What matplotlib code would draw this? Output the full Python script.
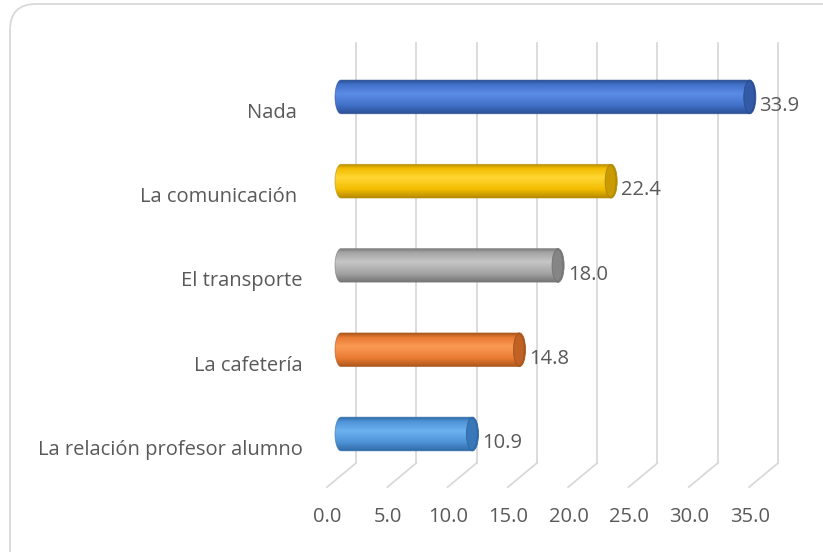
import numpy as np
import matplotlib.pyplot as plt
from matplotlib.patches import Ellipse, FancyBboxPatch, PathPatch
from matplotlib.path import Path
from matplotlib.colors import LinearSegmentedColormap
from matplotlib.transforms import IdentityTransform

# Data (top to bottom in the chart); the first two labels carry a trailing space as in the source
categories = ['Nada ', 'La comunicación ', 'El transporte', 'La cafetería',
              'La relación profesor alumno']
values = [33.9, 22.4, 18.0, 14.8, 10.9]
ticks = [0, 5, 10, 15, 20, 25, 30, 35]

# dark, mid, light shades per bar
shades = [('#2B4F94', '#4170C8', '#5B8CE6'),
          ('#B58A00', '#F2BC00', '#FFD633'),
          ('#767676', '#A3A3A3', '#C6C6C6'),
          ('#A9561C', '#E97A32', '#FA9A55'),
          ('#2F6AA8', '#4E93D6', '#6CB2F0')]

plt.rcParams['font.family'] = ['Open Sans', 'DejaVu Sans']
TXT = '#595959'
FS = 14.5

fig = plt.figure(figsize=(8.23, 5.52), dpi=100)
ax = fig.add_axes([0, 0, 1, 1])
ax.axis('off')
ax.patch.set_visible(False)
ax.set_zorder(2)

# outer frame
frame = FancyBboxPatch((10, -40), 860, 588, boxstyle='round,pad=0,rounding_size=26',
                       transform=IdentityTransform(), fc='none', ec='#D9D9D9', lw=1.3,
                       zorder=0)
fig.patches.append(frame)

n = len(categories)
ypos = [n - 1 - i for i in range(n)]

# 3D grid: back wall lines plus floor diagonals
back_dx, front_dx = 1.24, -1.16
top_y, floor_back, floor_front = 4.64, -0.345, -0.63
for t in ticks:
    ax.plot([t + back_dx, t + back_dx], [floor_back, top_y], color='#D9D9D9', lw=1.3, zorder=1)
    ax.plot([t + back_dx, t + front_dx], [floor_back, floor_front], color='#D9D9D9', lw=1.3, zorder=1)
    ax.text(t + front_dx + 0.05, -0.985, f'{t:.1f}', ha='center', va='center',
            fontsize=FS, color=TXT)

h = 0.40
rx = 0.5
for cat, v, y, (dk, md, lt) in zip(categories, values, ypos, shades):
    cmap = LinearSegmentedColormap.from_list(
        'c', [(0, dk), (0.12, md), (0.4, lt), (0.75, md), (1, dk)])
    # body: left half-ellipse + rectangle
    theta = np.linspace(np.pi / 2, 3 * np.pi / 2, 30)
    left = np.column_stack([rx * np.cos(theta), y + h / 2 * np.sin(theta)])
    verts = np.vstack([[[v, y + h / 2]], left, [[v, y - h / 2]], [[v, y + h / 2]]])
    body = PathPatch(Path(verts), fc='none', ec='none', zorder=3)
    ax.add_patch(body)
    grad = np.linspace(1, 0, 100).reshape(-1, 1)
    im = ax.imshow(grad, cmap=cmap, aspect='auto', extent=[-rx, v, y - h / 2, y + h / 2],
                   origin='lower', zorder=3, interpolation='bicubic')
    im.set_clip_path(body)
    ax.add_patch(PathPatch(Path(verts), fc='none', ec=dk, lw=0.6, alpha=0.6, zorder=4))
    # right end cap
    ax.add_patch(Ellipse((v, y), 2 * rx, h, fc=dk, ec=dk, lw=0.6, zorder=5))
    ax.add_patch(Ellipse((v - 0.05, y), 2 * rx * 0.8, h * 0.9, fc=md, ec='none',
                         alpha=0.35, zorder=5))
    ax.text(v + rx + 0.3, y - 0.11, f'{v:.1f}', ha='left', va='center',
            fontsize=FS, color=TXT, zorder=6)
    ax.text(-3.2, y - 0.19, cat, ha='right', va='center', fontsize=FS, color=TXT)

ax.set_xlim(-28.28, 39.97)
ax.set_ylim(-1.40, 5.15)
fig.savefig('out.png', dpi=100)
